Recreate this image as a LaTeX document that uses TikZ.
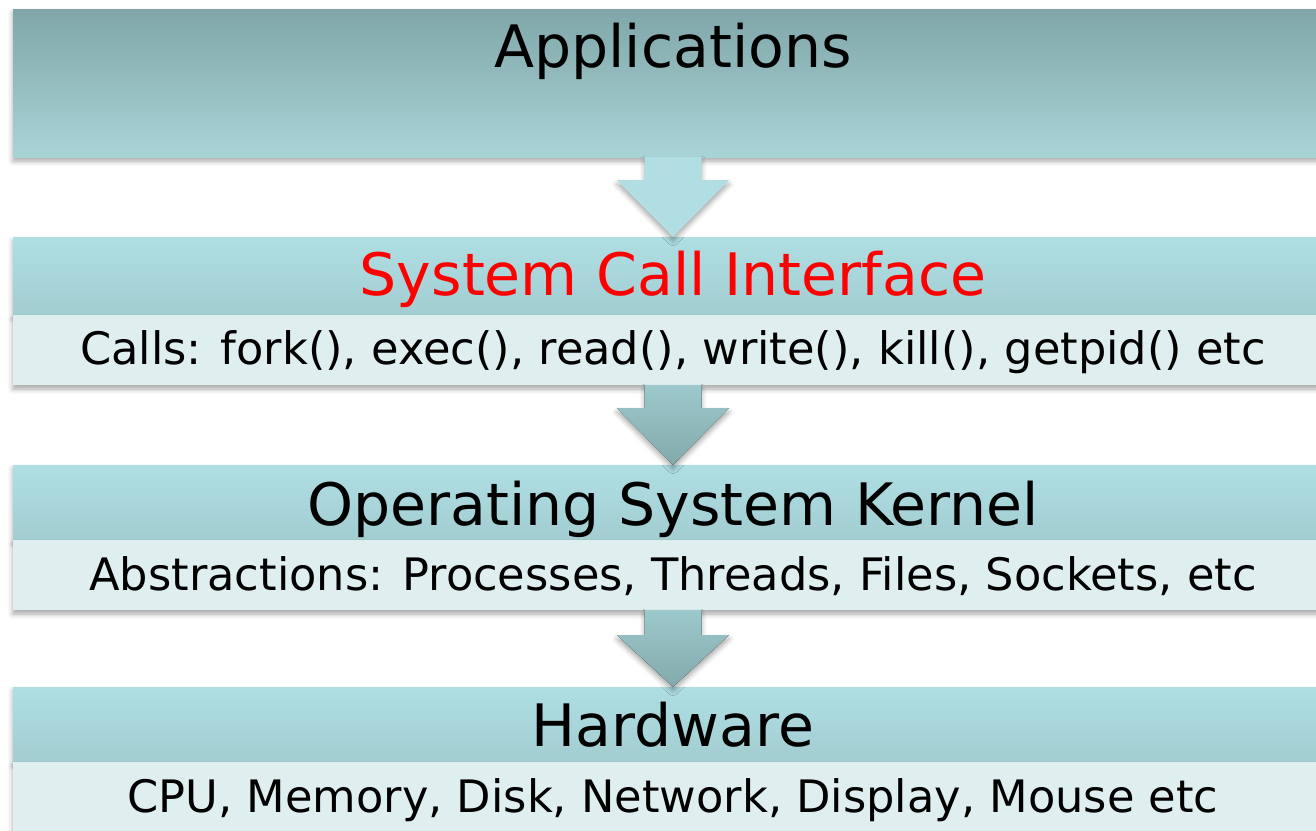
\documentclass[tikz,border=0pt]{standalone}
\usepackage{fontspec}
\setmainfont{DejaVu Sans}
\usetikzlibrary{calc,shadows.blur}
\definecolor{appTop}{HTML}{80A6A8}
\definecolor{appBot}{HTML}{A9D4D7}
\definecolor{bandTop}{HTML}{AFDFE3}
\definecolor{bandBot}{HTML}{A2CDD1}
\definecolor{lowBand}{HTML}{DFEFF0}
\definecolor{arrLight}{HTML}{B0DEE2}
\definecolor{arrDarkTop}{HTML}{9DC9CC}
\definecolor{arrDarkBot}{HTML}{83A9AB}
\tikzset{
  shad/.style={blur shadow={shadow xshift=0pt,shadow yshift=-4pt,shadow blur radius=5pt,shadow opacity=35}},
  band/.style={rectangle,inner sep=0pt,minimum width=1320pt,shad,top color=bandTop,bottom color=bandBot},
  lowband/.style={rectangle,inner sep=0pt,minimum width=1320pt,shad,fill=lowBand},
  bigtxt/.style={anchor=base,inner sep=0pt,font=\fontsize{58.5}{60}\selectfont},
  smalltxt/.style={anchor=base,inner sep=0pt,font=\fontsize{44.7}{48}\selectfont},
  lightarrow/.style={fill=arrLight,shad},
  darkarrow/.style={top color=arrDarkTop,bottom color=arrDarkBot,shad},
}
\begin{document}
\begin{tikzpicture}[x=1pt,y=-1pt]
\useasboundingbox (0,0) rectangle (1316,830);
% Applications
\node[rectangle,inner sep=0pt,minimum width=1320pt,minimum height=148pt,shad,top color=appTop,bottom color=appBot] (app) at (673,83) {};
\node[bigtxt] (apptxt) at (673,67) {Applications};
% System Call Interface
\node[band,minimum height=78pt] (sci) at (673,276) {};
\node[lowband,minimum height=70pt] (scil) at (673,350) {};
\node[bigtxt,text=red] (scitxt) at (673,295) {System Call Interface};
\node[smalltxt] (scisub) at (673,364) {Calls: fork(), exec(), read(), write(), kill(), getpid() etc};
% Kernel
\node[band,minimum height=75pt] (osk) at (673,502.5) {};
\node[lowband,minimum height=70pt] (oskl) at (673,575) {};
\node[bigtxt] (osktxt) at (673,525) {Operating System Kernel};
\node[smalltxt] (osksub) at (673,590.5) {Abstractions: Processes, Threads, Files, Sockets, etc};
% Hardware
\node[band,minimum height=75pt] (hw) at (673,724.5) {};
\node[lowband,minimum height=78pt] (hwl) at (673,801) {};
\node[bigtxt] (hwtxt) at (673,746) {Hardware};
\node[smalltxt] (hwsub) at (673,812) {CPU, Memory, Disk, Network, Display, Mouse etc};
% Arrows
\fill[lightarrow] ($(app.south)+(-28.5,0)$) -- ($(app.south)+(28.5,0)$) -- ($(app.south)+(28.5,23)$) -- ($(app.south)+(56,23)$) -- (sci.north) -- ($(app.south)+(-56,23)$) -- ($(app.south)+(-28.5,23)$) -- cycle;
\fill[darkarrow] ($(scil.south)+(-28.5,0)$) -- ($(scil.south)+(28.5,0)$) -- ($(scil.south)+(28.5,23)$) -- ($(scil.south)+(56,23)$) -- (osk.north) -- ($(scil.south)+(-56,23)$) -- ($(scil.south)+(-28.5,23)$) -- cycle;
\fill[darkarrow] ($(oskl.south)+(-28.5,0)$) -- ($(oskl.south)+(28.5,0)$) -- ($(oskl.south)+(28.5,25)$) -- ($(oskl.south)+(56,25)$) -- (hw.north) -- ($(oskl.south)+(-56,25)$) -- ($(oskl.south)+(-28.5,25)$) -- cycle;
\end{tikzpicture}
\end{document}
